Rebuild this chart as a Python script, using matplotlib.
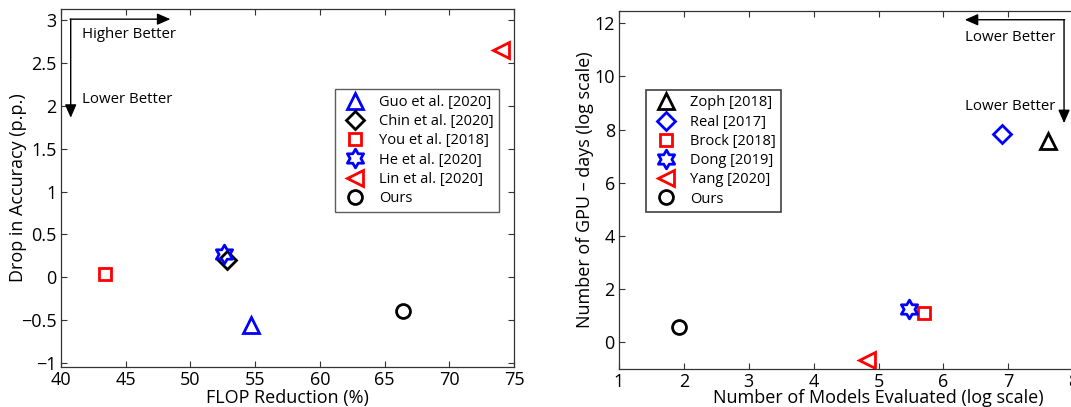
import matplotlib
matplotlib.use("Agg")
import matplotlib.pyplot as plt
from matplotlib.path import Path
import numpy as np

plt.rcParams['font.family'] = ['Open Sans', 'DejaVu Sans']

# Left chart data
left_labels = ["Guo et al. [2020]", "Chin et al. [2020]", "You et al. [2018]",
               "He et al. [2020]", "Lin et al. [2020]", "Ours"]
left_x = [54.7, 52.8, 43.4, 52.6, 74.0, 66.4]
left_y = [-0.56, 0.20, 0.04, 0.27, 2.65, -0.39]
left_markers = ['^', 'D', 's', 'hex', '<', 'o']
left_colors = ['blue', 'black', 'red', 'blue', 'red', 'black']

# Right chart data
right_labels = ["Zoph [2018]", "Real [2017]", "Brock [2018]",
                "Dong [2019]", "Yang [2020]", "Ours"]
right_x = [7.61, 6.91, 5.70, 5.47, 4.83, 1.93]
right_y = [7.55, 7.82, 1.09, 1.24, -0.67, 0.59]
right_markers = ['^', 'D', 's', 'hex', '<', 'o']
right_colors = ['black', 'blue', 'red', 'blue', 'red', 'black']

left_xticks = [40, 45, 50, 55, 60, 65, 70, 75]
left_yticks = [-1, -0.5, 0, 0.5, 1, 1.5, 2, 2.5, 3]
left_yticklabels = ['\u22121', '\u22120.5', '0', '0.5', '1', '1.5', '2', '2.5', '3']
right_xticks = [1, 2, 3, 4, 5, 6, 7, 8, 9]
right_yticks = [0, 2, 4, 6, 8, 10, 12]

# hexagram (star of David outline) marker
_ang = np.deg2rad(90 + np.arange(12) * 30)
_rad = np.array([1.0 if i % 2 == 0 else 0.5774 for i in range(12)])
_verts = np.column_stack([_rad * np.cos(_ang), _rad * np.sin(_ang)])
_verts = np.vstack([_verts, _verts[:1]])
HEX = Path(_verts, [Path.MOVETO] + [Path.LINETO] * 11 + [Path.CLOSEPOLY])

fig = plt.figure(figsize=(10.71, 4.07), dpi=100)
ax1 = fig.add_axes([61 / 1071, (407 - 366.7) / 407, 453 / 1071, 357.4 / 407])
ax2 = fig.add_axes([619 / 1071, (407 - 369.3) / 407, 519 / 1071, 358.6 / 407])

def mk(m):
    return HEX if m == 'hex' else m

def msize(m):
    return {'hex': 13.5, 'D': 9, 's': 9, 'o': 10, '^': 11, '<': 11}[m]

def style(ax):
    for s in ax.spines.values():
        s.set_color('#333333')
        s.set_linewidth(0.9)
    ax.tick_params(direction='in', top=True, right=True, length=4,
                   labelsize=13, color='#333333', pad=3)

for x, y, m, c, l in zip(left_x, left_y, left_markers, left_colors, left_labels):
    ax1.plot([x], [y], linestyle='none', marker=mk(m), markersize=msize(m),
             markerfacecolor='none', markeredgecolor=c, markeredgewidth=2, label=l)
ax1.set_xlim(40, 75)
ax1.set_ylim(-1.043, 3.125)
ax1.set_xticks(left_xticks)
ax1.set_xticklabels([str(v) for v in left_xticks])
ax1.set_yticks(left_yticks)
ax1.set_yticklabels(left_yticklabels)
ax1.set_xlabel('FLOP Reduction (%)', fontsize=13, labelpad=0)
ax1.set_ylabel('Drop in Accuracy (p.p.)', fontsize=13, labelpad=-4)
style(ax1)
leg1 = ax1.legend(loc='upper left', bbox_to_anchor=(0.605, 0.777), fontsize=10.5,
                  frameon=True, fancybox=False, edgecolor='#333333',
                  handletextpad=0.6, labelspacing=0.29, borderpad=0.4,
                  borderaxespad=0, handlelength=2.0, numpoints=1)
leg1.get_frame().set_linewidth(1.0)
aprops = dict(arrowstyle='-|>,head_length=0.8,head_width=0.35',
              color='black', lw=1, shrinkA=0, shrinkB=0)
ax1.annotate('', xy=(48.45, 3.01), xytext=(40.7, 3.01), arrowprops=aprops)
ax1.annotate('', xy=(40.75, 1.86), xytext=(40.75, 3.01), arrowprops=aprops)
ax1.text(41.6, 2.83, 'Higher Better', fontsize=10.8, va='center', ha='left')
ax1.text(41.6, 2.07, 'Lower Better', fontsize=10.8, va='center', ha='left')

for x, y, m, c, l in zip(right_x, right_y, right_markers, right_colors, right_labels):
    ax2.plot([x], [y], linestyle='none', marker=mk(m), markersize=msize(m),
             markerfacecolor='none', markeredgecolor=c, markeredgewidth=2, label=l)
ax2.set_xlim(1, 9)
ax2.set_ylim(-1.02, 12.47)
ax2.set_xticks(right_xticks)
ax2.set_yticks(right_yticks)
ax2.set_xlabel('Number of Models Evaluated (log scale)', fontsize=13, labelpad=-2)
ax2.set_ylabel('Number of GPU \u2013 days (log scale)', fontsize=13, labelpad=0)
style(ax2)
leg2 = ax2.legend(loc='upper left', bbox_to_anchor=(0.052, 0.78), fontsize=10.5,
                  frameon=True, fancybox=False, edgecolor='#111111',
                  handletextpad=0.6, labelspacing=0.29, borderpad=0.4,
                  borderaxespad=0, handlelength=2.0, numpoints=1)
leg2.get_frame().set_linewidth(1.2)
ax2.annotate('', xy=(6.33, 12.13), xytext=(7.87, 12.13), arrowprops=aprops)
ax2.annotate('', xy=(7.86, 8.24), xytext=(7.86, 12.13), arrowprops=aprops)
ax2.text(6.33, 11.46, 'Lower Better', fontsize=10.8, va='center', ha='left')
ax2.text(6.33, 8.87, 'Lower Better', fontsize=10.8, va='center', ha='left')

fig.savefig('out.png', dpi=100)
